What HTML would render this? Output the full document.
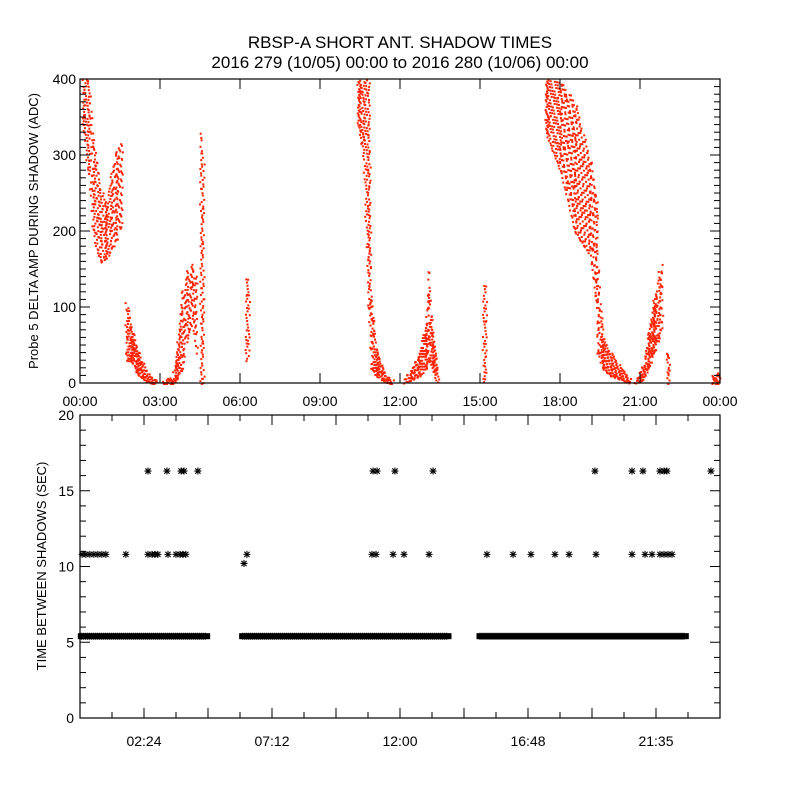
<!DOCTYPE html>
<html><head><meta charset="utf-8"><style>
body{margin:0;background:#fff}
svg text{font-family:"Liberation Sans",sans-serif;fill:#000}
</style></head><body>
<svg id="c" width="800" height="800" viewBox="0 0 800 800">
<rect width="800" height="800" fill="#fff"/>
<text x="400" y="48" font-size="17" text-anchor="middle">RBSP-A SHORT ANT. SHADOW TIMES</text>
<text x="400" y="68" font-size="17" text-anchor="middle">2016 279 (10/05) 00:00 to 2016 280 (10/06) 00:00</text>
<g id="top"></g>
<g id="bot"></g>
</svg>
<script>
// ---- top panel data: red amplitude bands [hour, low, high]
const bandA=[[0.1,330,400],[0.3,270,400],[0.5,190,320],[0.75,160,260],[0.95,165,240],[1.15,175,280],[1.35,190,310],[1.55,210,320]];
const bandB=[[1.7,30,110],[1.9,30,75],[2.1,15,50],[2.3,8,30],[2.5,3,15],[2.7,0,8],[2.85,0,4]];
const bandC=[[3.1,0,6],[3.45,0,8],[3.6,5,40],[3.8,20,120],[4.0,60,150],[4.2,80,160],[4.35,40,140]];
const bandD=[[4.5,0,340],[4.6,0,300]];
const bandE=[[6.2,30,140],[6.3,40,140]];
const bandF=[[10.4,340,400],[10.6,300,400],[10.8,100,400],[10.9,20,120],[11.1,10,45],[11.3,5,25],[11.5,0,10],[11.7,0,5]];
const bandG=[[12.1,0,5],[12.4,5,20],[12.7,10,40],[12.95,20,80],[13.05,30,150],[13.2,20,70],[13.4,0,20]];
const bandH=[[15.1,0,130],[15.2,0,130]];
const bandI=[[17.45,330,400],[18.0,280,400],[18.55,200,370],[19.1,170,300],[19.35,100,250],[19.4,40,150],[19.6,20,60],[19.9,10,40],[20.3,5,20],[20.6,0,8]];
const bandJ=[[20.8,0,5],[21.1,5,25],[21.3,20,70],[21.5,40,110],[21.7,60,150],[21.8,80,160]];
const bandK=[[22.0,0,45],[22.05,0,40]];
const bandL=[[23.7,0,12],[23.95,0,15]];
const bands=[bandA,bandB,bandC,bandD,bandE,bandF,bandG,bandH,bandI,bandJ,bandK,bandL];
const topYTicks=[0,100,200,300,400];
const topXLabels=["00:00","03:00","06:00","09:00","12:00","15:00","18:00","21:00","00:00"];
// ---- bottom panel data
const row54Start=[0.05,6.1,15.0];
const row54End=[4.75,13.8,22.7];
const row54Value=5.4;
const t108=[0.08,0.22,0.37,0.52,0.67,0.82,0.97,1.72,2.55,2.70,2.81,2.92,3.30,3.60,3.75,3.86,3.97,6.26,10.95,11.10,11.74,12.15,13.09,15.26,16.24,16.91,17.81,18.34,19.35,20.70,21.19,21.45,21.75,21.90,22.05,22.20];
const v108=10.8;
const t163=[2.55,3.26,3.79,3.90,4.42,10.99,11.14,11.81,13.24,19.31,20.70,21.11,21.75,21.90,22.01,23.66];
const v163=16.3;
const t102=[6.15];
const v102=10.2;
const botYTicks=[0,5,10,15,20];
const botXLabels=["02:24","07:12","12:00","16:48","21:35"];

const NS="http://www.w3.org/2000/svg";
function mk(p,tag,a){const e=document.createElementNS(NS,tag);for(const k in a)e.setAttribute(k,a[k]);p.appendChild(e);return e;}
const X0=80,X1=720;
const xs=h=>X0+h*(X1-X0)/24;
const yT=v=>383-0.76*v;
const yB=v=>718-15.15*v;
const topG=document.getElementById('top'), botG=document.getElementById('bot');

// top points (deterministic dither within each band)
const pts=mk(topG,'g',{fill:'#ff2200'});


bands.forEach((b,bi)=>{
  for(let i=0;i<b.length-1;i++){
    const a=b[i],c=b[i+1];
    const xa=xs(a[0]),xc=xs(c[0]);
    const n=Math.max(1,Math.round(xc-xa));
    for(let k=0;k<=n;k++){
      const f=k/n;const lo=a[1]+(c[1]-a[1])*f,hi=a[2]+(c[2]-a[2])*f;
      const x=xa+(xc-xa)*f;
      const y1=yT(hi),y2=yT(lo);
      const step=(y2-y1)>60?9:4;
      let j=0;
      for(let y=y1;y<=y2;y+=step){
        const h=((k*131+j*71+bi*29+i*13)%97)/97;
        const h2=((k*53+j*89+bi*7)%61)/61;
        mk(pts,'rect',{x:(x+(h2-0.5)*2).toFixed(1),y:Math.min(y2,y+h*step).toFixed(1),width:2,height:2});
        j++;
      }
    }
  }
});
// top axes
mk(topG,'rect',{x:X0,y:79,width:X1-X0,height:304,fill:'none',stroke:'#000','stroke-width':1.2});
for(let v=0;v<=400;v+=10){const y=yT(v);const L=v%100===0?10:6;
  mk(topG,'line',{x1:X0,x2:X0+L,y1:y,y2:y,stroke:'#000'});mk(topG,'line',{x1:X1,x2:X1-L,y1:y,y2:y,stroke:'#000'});}
topYTicks.forEach(v=>{const t=mk(topG,'text',{x:X0-4,y:yT(v)+5,'font-size':14,'text-anchor':'end'});t.textContent=v;
  
  });
topXLabels.forEach((s,i)=>{const x=xs(i*3);
  mk(topG,'line',{x1:x,x2:x,y1:383,y2:373,stroke:'#000'});mk(topG,'line',{x1:x,x2:x,y1:79,y2:89,stroke:'#000'});
  const t=mk(topG,'text',{x:x,y:406,'font-size':14,'text-anchor':'middle'});t.textContent=s;
  
  });
const tt=mk(topG,'text',{x:0,y:0,'font-size':13,'text-anchor':'middle',transform:'translate(38,231) rotate(-90)'});
tt.textContent='Probe 5 DELTA AMP DURING SHADOW (ADC)';



// bottom
function star(g,x,y){const r=3.5;
  mk(g,'path',{d:`M${x-r} ${y}H${x+r}M${x} ${y-r}V${y+r}M${x-r*0.75} ${y-r*0.75}L${x+r*0.75} ${y+r*0.75}M${x-r*0.75} ${y+r*0.75}L${x+r*0.75} ${y-r*0.75}`,stroke:'#000','stroke-width':1.1,fill:'none'});}
const sg=mk(botG,'g',{});


for(let i=0;i<row54Start.length;i++){
  const xa=xs(row54Start[i]),xb=xs(row54End[i]);
  mk(sg,'rect',{x:xa-3.5,y:yB(row54Value)-3,width:xb-xa+7,height:6,fill:'#000'});
  for(let x=xa;x<=xb;x+=2)star(sg,x,yB(row54Value));
}
t108.forEach(t=>star(sg,xs(t),yB(v108)));
t163.forEach(t=>star(sg,xs(t),yB(v163)));
t102.forEach(t=>star(sg,xs(t),yB(v102)));
mk(botG,'rect',{x:X0,y:415,width:X1-X0,height:303,fill:'none',stroke:'#000','stroke-width':1.2});
for(let v=0;v<=20;v++){const y=yB(v);const L=v%5===0?10:6;
  mk(botG,'line',{x1:X0,x2:X0+L,y1:y,y2:y,stroke:'#000'});mk(botG,'line',{x1:X1,x2:X1-L,y1:y,y2:y,stroke:'#000'});}
botYTicks.forEach(v=>{const t=mk(botG,'text',{x:X0-6,y:yB(v)+5,'font-size':14,'text-anchor':'end'});t.textContent=v;
  
  });
for(let k=0;k<=20;k++){const x=xs(k*1.2);const L=k%2===0?10:6;
  mk(botG,'line',{x1:x,x2:x,y1:718,y2:718-L,stroke:'#000'});mk(botG,'line',{x1:x,x2:x,y1:415,y2:415+L,stroke:'#000'});}
botXLabels.forEach((s,i)=>{const t=mk(botG,'text',{x:xs(2.4+i*4.8),y:746,'font-size':14,'text-anchor':'middle'});t.textContent=s;
  
  });
const bt=mk(botG,'text',{x:0,y:0,'font-size':13,'text-anchor':'middle',transform:'translate(46,566) rotate(-90)'});
bt.textContent='TIME BETWEEN SHADOWS (SEC)';


</script>
</body></html>
